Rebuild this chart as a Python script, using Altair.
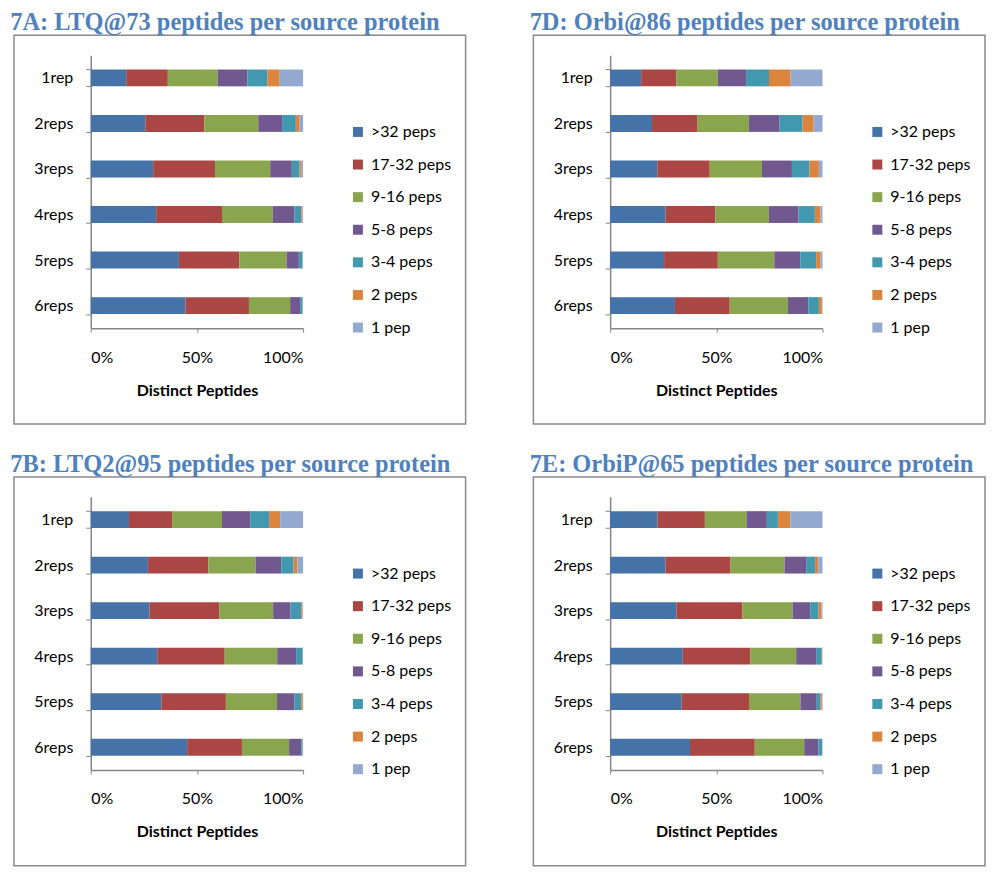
import altair as alt
import pandas as pd

categories = ["1rep", "2reps", "3reps", "4reps", "5reps", "6reps"]
series = [">32 peps", "17-32 peps", "9-16 peps", "5-8 peps", "3-4 peps", "2 peps", "1 pep"]
colors = ["#4572A7", "#AA4643", "#89A54E", "#71588F", "#4198AF", "#DB843D", "#93A9CF"]

# percent of distinct peptides per bin, one row per replicate count
panel_A = [
    [16.7, 19.6, 23.5, 13.9, 9.5, 5.8, 11.0],
    [25.7, 27.8, 25.4, 11.2, 6.5, 1.8, 1.6],
    [29.4, 29.1, 26.0, 10.2, 3.6, 0.8, 0.9],
    [30.8, 31.0, 24.0, 10.1, 3.3, 0.6, 0.2],
    [41.5, 28.5, 22.2, 5.8, 1.7, 0.1, 0.2],
    [44.6, 29.9, 19.4, 4.7, 1.1, 0.1, 0.2],
]
panel_D = [
    [14.6, 16.5, 19.6, 13.3, 10.8, 10.2, 15.0],
    [19.7, 21.5, 24.1, 14.5, 10.8, 5.2, 4.2],
    [22.2, 24.7, 24.6, 14.1, 8.3, 4.4, 1.7],
    [26.1, 23.4, 25.3, 13.9, 7.7, 2.7, 0.9],
    [25.4, 25.3, 26.6, 12.2, 7.5, 2.1, 0.9],
    [30.5, 25.8, 27.4, 9.6, 5.0, 1.4, 0.3],
]
panel_B = [
    [18.0, 20.3, 23.5, 13.3, 8.9, 5.2, 10.8],
    [26.9, 28.5, 22.2, 12.1, 5.8, 1.8, 2.7],
    [27.7, 32.9, 25.3, 8.2, 5.0, 0.6, 0.3],
    [31.3, 31.8, 24.7, 8.9, 3.1, 0.1, 0.1],
    [33.3, 30.4, 24.1, 8.3, 3.1, 0.8, 0.1],
    [45.4, 25.8, 22.2, 5.8, 0.6, 0.1, 0.1],
]
panel_E = [
    [22.3, 22.3, 19.6, 9.6, 5.2, 5.8, 15.2],
    [26.1, 30.6, 25.4, 10.2, 4.2, 1.5, 2.0],
    [31.2, 31.1, 23.6, 8.3, 3.8, 1.4, 0.6],
    [34.2, 31.8, 21.6, 9.4, 2.6, 0.3, 0.1],
    [33.7, 31.7, 24.2, 7.7, 1.8, 0.6, 0.3],
    [37.6, 30.5, 23.3, 6.6, 1.8, 0.1, 0.1],
]
titles = [
    "7A: LTQ@73 peptides per source protein",
    "7D: Orbi@86 peptides per source protein",
    "7B: LTQ2@95 peptides per source protein",
    "7E: OrbiP@65 peptides per source protein",
]

W, H = 213, 274
LABEL_FONT = "Lato"
AXIS_GRAY = "#868686"


def make_panel(rows, title):
    recs = []
    for ci, cat in enumerate(categories):
        for si, s in enumerate(series):
            recs.append({"rep": cat, "bin": s, "idx": si, "value": rows[ci][si]})
    df = pd.DataFrame(recs)

    bars = alt.Chart(df).mark_bar().encode(
        y=alt.Y("rep:N", sort=categories,
                scale=alt.Scale(paddingInner=0.63, paddingOuter=0.315),
                axis=alt.Axis(title=None, tickBand="extent", tickSize=5,
                              labelPadding=13, labelFontSize=16, labelFont=LABEL_FONT,
                              labelColor="#000", domainColor=AXIS_GRAY, tickColor=AXIS_GRAY,
                              domainWidth=1.5, grid=False)),
        x=alt.X("value:Q", stack="normalize",
                scale=alt.Scale(domain=[0, 1], nice=False),
                axis=alt.Axis(title="Distinct Peptides", values=[0, 0.5, 1], format=".0%",
                              tickSize=4, labelPadding=17, labelFontSize=16, labelFont=LABEL_FONT,
                              labelColor="#000", domainColor=AXIS_GRAY, tickColor=AXIS_GRAY,
                              domainWidth=1.5, grid=False, titleFont=LABEL_FONT,
                              titleFontSize=16, titleFontWeight="bold", titleColor="#000",
                              titlePadding=17)),
        color=alt.Color("bin:N", sort=series,
                        scale=alt.Scale(domain=series, range=colors),
                        legend=alt.Legend(title=None, orient="none", legendX=260, legendY=69,
                                          symbolType="square", symbolSize=100,
                                          symbolStrokeWidth=0, labelFontSize=16,
                                          labelFont=LABEL_FONT, labelColor="#000",
                                          rowPadding=16.7, labelOffset=5)),
        order=alt.Order("idx:Q", sort="ascending"),
    )

    frame = alt.Chart(alt.Data(values=[{"a": 1}])).mark_rect(
        fill=None, stroke="#8a8a8a", strokeWidth=1.5
    ).encode(
        x=alt.value(-77), x2=alt.value(376), y=alt.value(-20), y2=alt.value(370)
    )

    return alt.layer(frame, bars).properties(
        width=W, height=H,
        title=alt.TitleParams(title, anchor="start", frame="bounds", dx=-3, offset=-1,
                              font="Liberation Serif", fontSize=24.5, fontWeight="bold",
                              color="#4F81BD"),
    ).resolve_scale(color="independent")


pA = make_panel(panel_A, titles[0])
pD = make_panel(panel_D, titles[1])
pB = make_panel(panel_B, titles[2])
pE = make_panel(panel_E, titles[3])

chart = alt.vconcat(
    alt.hconcat(pA, pD, spacing=63).resolve_scale(color="independent").resolve_legend(color="independent"),
    alt.hconcat(pB, pE, spacing=63).resolve_scale(color="independent").resolve_legend(color="independent"),
    spacing=26,
).resolve_scale(color="independent").resolve_legend(color="independent").configure_view(
    stroke=None
).properties(
    padding={"left": 2, "top": 0, "right": 0, "bottom": 0}
)

chart.save("out.html", embed_options={"renderer": "svg", "actions": False})
